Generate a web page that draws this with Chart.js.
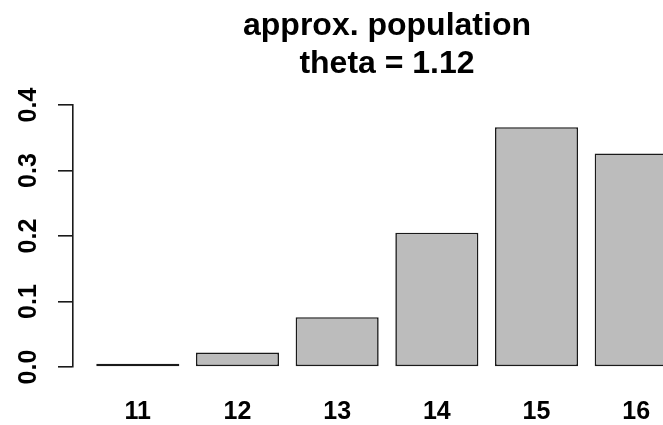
<!DOCTYPE html>
<html>
<head>
<meta charset="utf-8">
<script src="https://cdn.jsdelivr.net/npm/chart.js@4/dist/chart.umd.min.js"></script>
<style>
  html, body { margin: 0; padding: 0; background: #ffffff; }
  #wrap { width: 663px; height: 425px; overflow: hidden; position: relative; }
  #chart { display: block; }
</style>
</head>
<body>
<div id="wrap"><canvas id="chart" width="701" height="425"></canvas></div>
<script>
// Probability of each population size
const categories = ['11', '12', '13', '14', '15', '16'];
const probabilities = [0.005, 0.022, 0.076, 0.205, 0.366, 0.326];
const yTicks = [0.0, 0.1, 0.2, 0.3, 0.4];
const titleLines = ['approx. population', 'theta = 1.12'];

// barplot-style positions: bar width 1, gap 0.2
const SPACE = 0.2;
const centers = categories.map((_, i) => SPACE + 0.5 + i * (1 + SPACE));
const points = categories.map((_, i) => ({ x: centers[i], y: probabilities[i] }));
const xPad = 0.04 * (centers[centers.length - 1] + 0.5 - (SPACE));

const FONT = '"Liberation Sans", Arial, Helvetica, sans-serif';

const titlePlugin = {
  id: 'plotTitle',
  afterDraw(chart) {
    const ctx = chart.ctx;
    const a = chart.chartArea;
    const cx = (a.left + a.right) / 2;
    ctx.save();
    ctx.fillStyle = '#000000';
    ctx.font = 'bold 32px ' + FONT;
    ctx.textAlign = 'center';
    ctx.textBaseline = 'alphabetic';
    ctx.fillText(titleLines[0], cx, 35);
    ctx.fillText(titleLines[1], cx, 73);
    ctx.restore();
  }
};

new Chart(document.getElementById('chart'), {
  type: 'bar',
  data: {
    datasets: [{
      data: points,
      backgroundColor: '#bcbcbc',
      borderColor: '#1a1a1a',
      borderWidth: 1.6,
      borderSkipped: false,
      categoryPercentage: 1,
      barPercentage: 1 / (1 + SPACE),
      clip: false
    }]
  },
  options: {
    responsive: false,
    animation: false,
    devicePixelRatio: 1,
    layout: { padding: { top: 105, right: 0, bottom: 0, left: 0 } },
    plugins: { legend: { display: false }, tooltip: { enabled: false }, title: { display: false } },
    scales: {
      x: {
        type: 'linear',
        offset: false,
        min: SPACE - xPad,
        max: centers[centers.length - 1] + 0.5 + xPad,
        grid: { display: false, drawTicks: false },
        border: { display: false },
        afterBuildTicks(scale) { scale.ticks = centers.map(v => ({ value: v })); },
        afterFit(scale) { scale.height = 58; },
        ticks: {
          autoSkip: false,
          maxRotation: 0,
          padding: 30,
          color: '#000000',
          font: { family: FONT, size: 25, weight: 'bold' },
          callback(value) {
            const i = centers.findIndex(c => Math.abs(c - value) < 1e-6);
            return i >= 0 ? categories[i] : '';
          }
        }
      },
      y: {
        min: 0,
        max: 0.4,
        afterBuildTicks(scale) { scale.ticks = yTicks.map(v => ({ value: v })); },
        afterFit(scale) { scale.width = 73; },
        grid: { drawOnChartArea: false, drawTicks: true, tickLength: 15, color: '#1a1a1a', lineWidth: 1.6 },
        border: { display: true, color: '#1a1a1a', width: 1.6 },
        ticks: {
          minRotation: 90,
          maxRotation: 90,
          crossAlign: 'center',
          padding: 12,
          color: '#000000',
          font: { family: FONT, size: 25, weight: 'bold' },
          callback(value) { return Number(value).toFixed(1); }
        }
      }
    }
  },
  plugins: [titlePlugin]
});
</script>
</body>
</html>
